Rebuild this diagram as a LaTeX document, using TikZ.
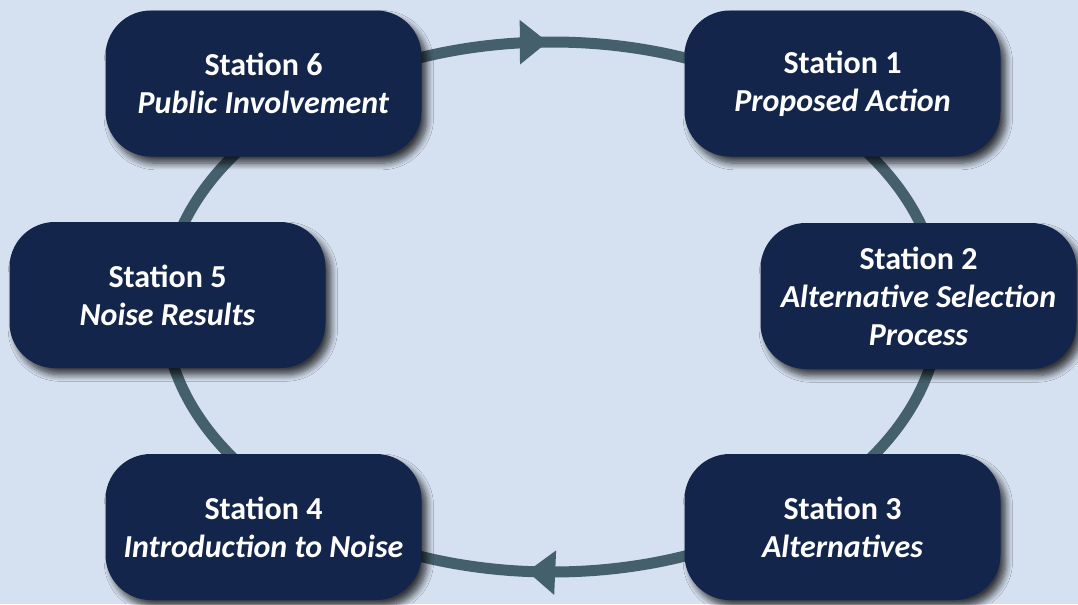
\documentclass[tikz,border=0pt]{standalone}
\usepackage{fontspec}
\setmainfont{Carlito}
\usepackage{tikz}
\usetikzlibrary{arrows.meta, positioning, decorations.markings, shadows.blur}
\definecolor{pagebg}{RGB}{213,224,240}
\definecolor{navy}{RGB}{19,37,74}
\definecolor{ringgray}{RGB}{68,96,109}

\begin{document}
\begin{tikzpicture}[
  x=0.75pt, y=-0.75pt,
  station/.style={rectangle, rounded corners=34pt, fill=navy, text=white,
    minimum width=237pt, minimum height=109.5pt, align=center, inner sep=2pt,
    font=\bfseries\fontsize{24}{28.5}\selectfont,
    blur shadow={shadow xshift=4pt, shadow yshift=-5pt, shadow blur steps=8,
      shadow blur radius=5pt, shadow opacity=75}},
  ring/.style={draw=ringgray, line width=8.25pt,
    postaction={decorate},
    decoration={markings,
      mark=at position 0.262 with {\arrow{Triangle[length=21pt, width=32pt]}},
      mark=at position 0.748 with {\arrow{Triangle[length=21pt, width=32pt]}}}}
]

\fill[pagebg] (0,0) rectangle (1078,604);
\useasboundingbox (0,0) rectangle (1078,604);

\coordinate (hub) at (552,307);
\draw[ring] (hub) ellipse [x radius=388, y radius=265];

\node[station] (s6) at (263.5,83.5) {Station 6\\ \textit{Public Involvement}};
\node[station] (s1) at (842.5,83.5) {Station 1\\ \textit{Proposed Action}};
\node[station] (s2) at (918.5,296) {Station 2\\ \textit{Alternative Selection}\\ \textit{Process}};
\node[station] (s5) at (167.5,295) {Station 5\\ \textit{Noise Results}};
\node[station] (s4) at (263.5,527) {Station 4\\ \textit{Introduction to Noise}};
\node[station] (s3) at (842.5,527) {Station 3\\ \textit{Alternatives}};

\end{tikzpicture}
\end{document}
